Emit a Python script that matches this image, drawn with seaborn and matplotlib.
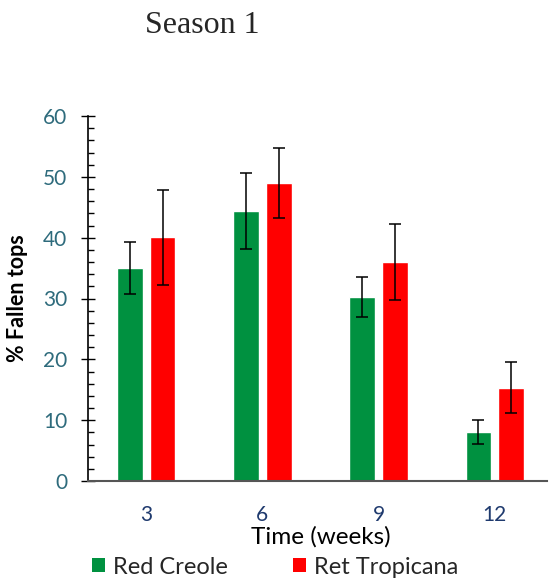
import numpy as np
import pandas as pd
import matplotlib
matplotlib.use("Agg")
import matplotlib.pyplot as plt
import seaborn as sns
from matplotlib.ticker import MultipleLocator
from matplotlib.patches import Patch

weeks = ["3", "6", "9", "12"]
series = ["Red Creole", "Ret Tropicana"]
red_creole = [35.0, 44.4, 30.3, 8.1]
ret_tropicana = [40.1, 49.0, 36.0, 15.3]
red_creole_err = [4.3, 6.2, 3.3, 2.0]
ret_tropicana_err = [7.8, 5.7, 6.2, 4.2]
colors = ["#009140", "#FF0000"]

df = pd.DataFrame({
    "week": weeks * 2,
    "variety": [series[0]] * 4 + [series[1]] * 4,
    "value": red_creole + ret_tropicana,
})

sns.set_style("white")
plt.rcParams["font.family"] = ["Lato", "DejaVu Sans"]

fig = plt.figure(figsize=(5.53, 5.84), dpi=100)
ax = fig.add_axes([88 / 553, 1 - 481 / 584, 1 - 88 / 553, (481 - 116) / 584])

sns.barplot(data=df, x="week", y="value", hue="variety", order=weeks,
            hue_order=series, palette=colors, width=0.564, gap=0.21,
            errorbar=None, saturation=1, legend=False, ax=ax)

errs = red_creole_err + ret_tropicana_err
vals = red_creole + ret_tropicana
patches = [p for p in ax.patches]
for p, v, e in zip(patches, vals, errs):
    xc = p.get_x() + p.get_width() / 2
    ax.errorbar(xc, v, yerr=e, fmt="none", ecolor="black", elinewidth=1.1,
                capsize=4.5, capthick=1.1)

ax.set_xlim(-0.5, 3.5)
ax.set_ylim(0, 60)
ax.yaxis.set_major_locator(MultipleLocator(10))
ax.yaxis.set_minor_locator(MultipleLocator(2))
ax.tick_params(axis="y", which="major", direction="inout", length=10, width=1,
               color="black", labelsize=15, labelcolor="#2E6B7C", left=True, pad=10)
ax.tick_params(axis="y", which="minor", direction="in", length=4, width=1,
               color="black", left=True)
ax.tick_params(axis="x", which="both", length=0, labelsize=15,
               labelcolor="#1F3A6E", pad=17)

for s in ["top", "right"]:
    ax.spines[s].set_visible(False)
ax.spines["left"].set_color("black")
ax.spines["left"].set_linewidth(1.2)
ax.spines["bottom"].set_color("#555555")
ax.spines["bottom"].set_linewidth(1.5)
ax.spines["bottom"].set_bounds(-0.5, 3.45)

ax.set_ylabel("% Fallen tops", fontsize=15.5, fontweight="bold", color="black",
              va="center")
ax.yaxis.set_label_coords(-(88 - 18) / (553 - 88), 0.5)
ax.set_xlabel("Time (weeks)", fontsize=17.5, color="black", labelpad=1)

fig.text(202 / 553, 1 - 33 / 584, "Season 1", fontsize=23,
         family=["Liberation Serif", "DejaVu Serif"], ha="center", va="baseline")

handles = [Patch(facecolor=c, edgecolor="none") for c in colors]
fig.legend(handles, series, loc="center left", bbox_to_anchor=(92 / 553, 1 - 567 / 584),
           ncol=2, frameon=False, fontsize=17, handlelength=0.55, handleheight=0.55,
           handletextpad=0.35, columnspacing=2.75, borderaxespad=0, borderpad=0)

fig.savefig("out.png", dpi=100)
